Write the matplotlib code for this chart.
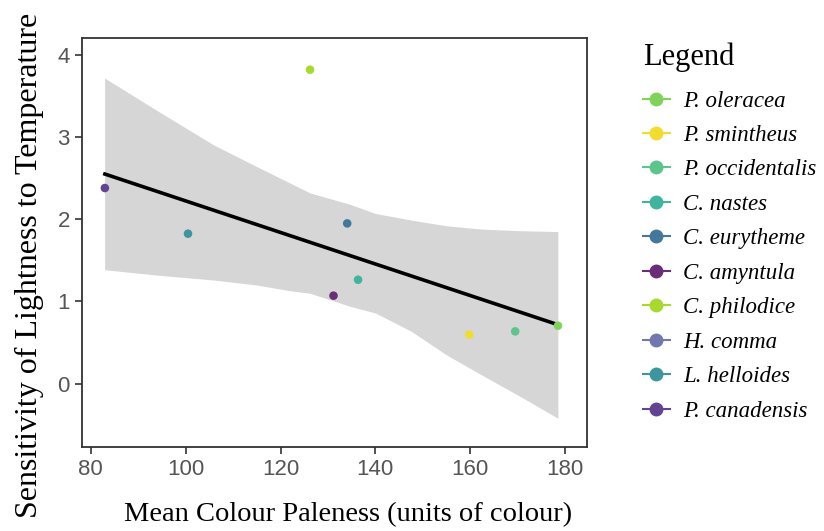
import matplotlib
matplotlib.use("Agg")
import matplotlib.pyplot as plt
from matplotlib.lines import Line2D

# ---- data ----
species = ["P. oleracea", "P. smintheus", "P. occidentalis", "C. nastes",
           "C. eurytheme", "C. amyntula", "C. philodice", "H. comma",
           "L. helloides", "P. canadensis"]
colours = ["#7fd35a", "#f2dc30", "#5cc58c", "#3fb59e",
           "#44779c", "#6a2d78", "#a6da2e", "#6f78b0",
           "#3d969e", "#634394"]

pt_species = ["P. canadensis", "L. helloides", "C. philodice", "C. amyntula",
              "C. eurytheme", "C. nastes", "P. smintheus", "P. occidentalis",
              "P. oleracea"]
pt_x = [82.96, 100.49, 126.23, 131.18, 134.07, 136.36, 159.81, 169.5, 178.52]
pt_y = [2.379, 1.824, 3.818, 1.070, 1.949, 1.264, 0.596, 0.636, 0.705]

fit_x = [82.96, 178.52]
fit_y = [2.549, 0.717]

band_x = [82.9, 94.0, 106.0, 115.0, 122.0, 126.2, 134.7, 140.0, 147.5, 155.0, 162.3, 170.4, 178.5]
band_hi = [3.717, 3.32, 2.90, 2.64, 2.44, 2.32, 2.18, 2.07, 1.99, 1.92, 1.88, 1.86, 1.85]
band_lo = [1.386, 1.32, 1.26, 1.20, 1.13, 1.10, 0.94, 0.86, 0.64, 0.35, 0.11, -0.15, -0.42]

x_ticks = [80, 100, 120, 140, 160, 180]
y_ticks = [0, 1, 2, 3, 4]

# ---- figure ----
fig = plt.figure(figsize=(8.24, 5.31), dpi=100)
ax = fig.add_axes([0.0999, 0.1582, 0.6128, 0.7697])

ax.fill_between(band_x, band_lo, band_hi, color="#d6d6d6", linewidth=0, zorder=1)
ax.plot(fit_x, fit_y, color="black", linewidth=2.6, zorder=2)

cmap = dict(zip(species, colours))
ax.scatter(pt_x, pt_y, s=38, c=[cmap[s] for s in pt_species], edgecolors="none", zorder=3)

ax.set_xlim(78.2, 184.7)
ax.set_ylim(-0.77, 4.2)
ax.set_xticks(x_ticks)
ax.set_yticks(y_ticks)

for sp in ax.spines.values():
    sp.set_color("#333333")
    sp.set_linewidth(1.3)
ax.tick_params(axis="both", direction="out", length=5, width=1.2, color="#333333",
               labelsize=16, labelcolor="#555555", pad=4)
for lab in ax.get_xticklabels() + ax.get_yticklabels():
    lab.set_family("Liberation Sans")

ax.set_xlabel("Mean Colour Paleness (units of colour)", family="Liberation Serif",
              fontsize=20.5, color="black")
ax.xaxis.set_label_coords(0.526, -0.135)
ax.set_ylabel("Sensitivity of Lightness to Temperature", family="Liberation Serif",
              fontsize=23, color="black")
ax.yaxis.set_label_coords(-0.075, 0.445)

handles = [Line2D([0], [0], color=c, marker="o", markersize=9, linewidth=1.5)
           for c in colours]
leg = fig.legend(handles, species, loc="upper left", bbox_to_anchor=(0.755, 0.958),
                 frameon=False, title="Legend", handlelength=1.2, handletextpad=0.55,
                 labelspacing=0.585, borderpad=0.4,
                 prop={"family": "Liberation Serif", "style": "italic", "size": 16.5})
leg.get_title().set_fontfamily("Liberation Serif")
leg.get_title().set_fontsize(22)
leg._legend_box.align = "left"
leg._legend_box.sep = 13

fig.savefig("out.png", dpi=100)
